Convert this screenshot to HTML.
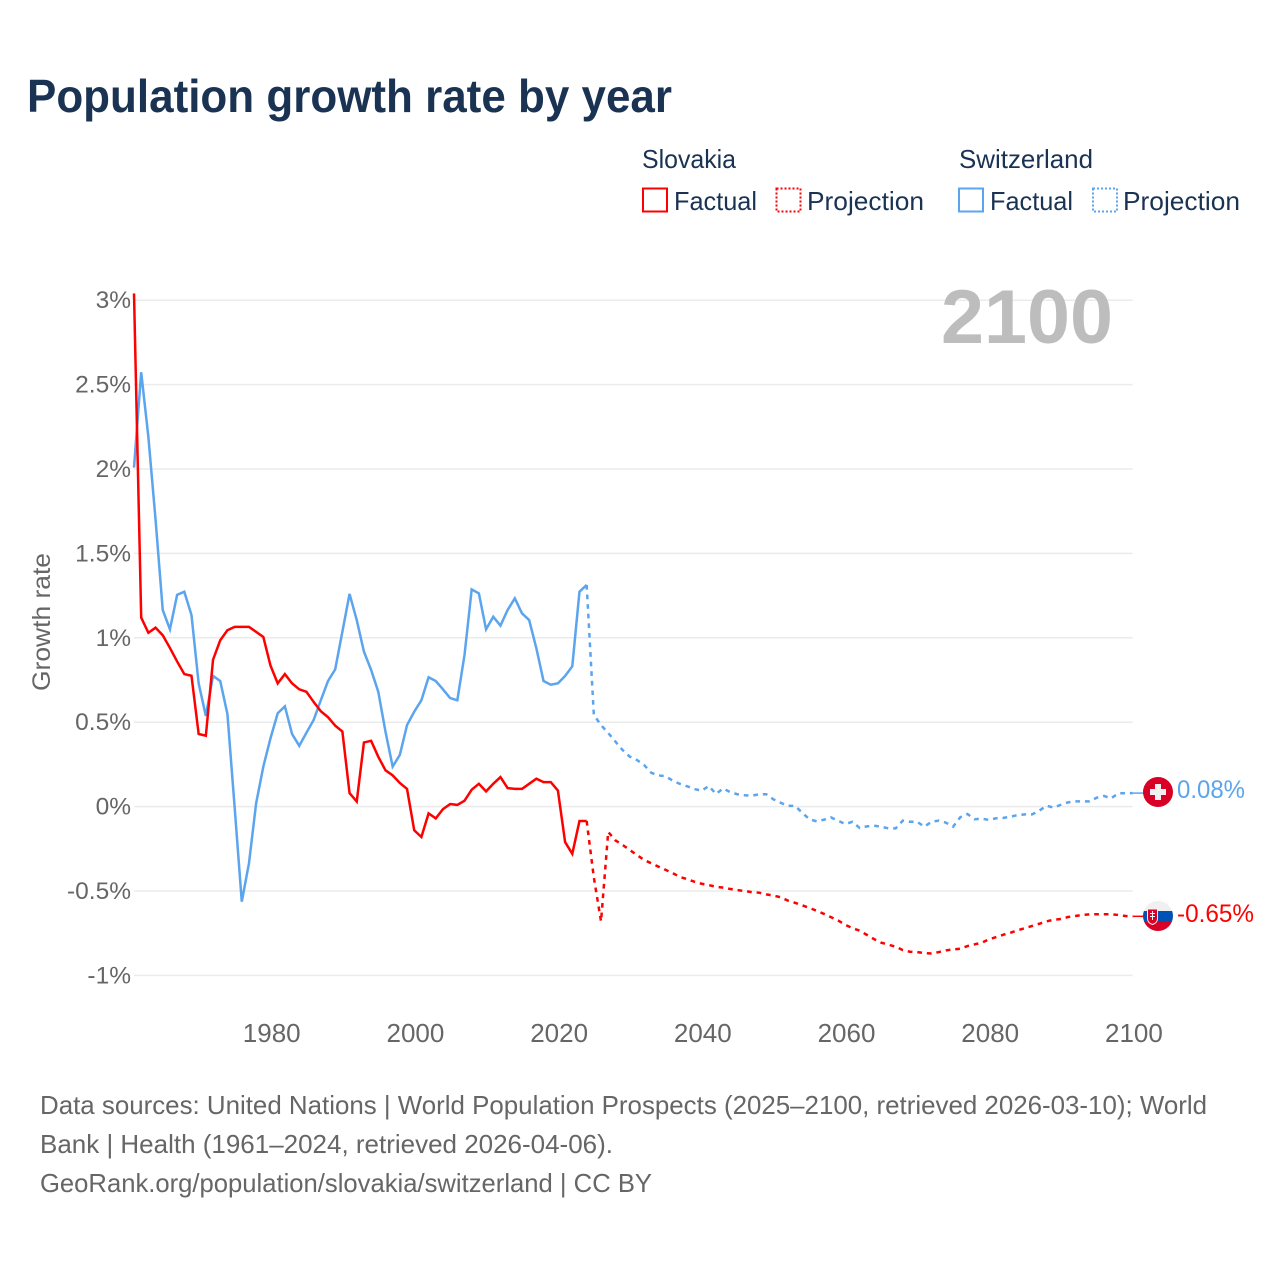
<!DOCTYPE html>
<html lang="en">
<head>
<meta charset="utf-8">
<title>Population growth rate by year</title>
<style>
html,body{margin:0;padding:0;background:#fff;width:1280px;height:1280px;overflow:hidden}
svg{display:block;font-family:"Liberation Sans",Arial,sans-serif}
</style>
</head>
<body>
<svg id="chart" xmlns="http://www.w3.org/2000/svg" width="1280" height="1280" viewBox="0 0 1280 1280">
  <rect width="1280" height="1280" fill="#ffffff"/>
  <text x="27" y="112" font-size="46" font-weight="700" fill="#1a3353" textLength="645" lengthAdjust="spacingAndGlyphs">Population growth rate by year</text>

  <g font-size="26" fill="#1a3353">
    <text x="642" y="168" textLength="94" lengthAdjust="spacingAndGlyphs">Slovakia</text>
    <rect x="643" y="188.500" width="24" height="23" fill="none" stroke="#ff0000" stroke-width="2"/>
    <text x="674" y="210" textLength="83" lengthAdjust="spacingAndGlyphs">Factual</text>
    <rect x="776.500" y="188.500" width="24" height="23" fill="none" stroke="#ff0000" stroke-width="2" stroke-dasharray="2 2"/>
    <text x="807" y="210" textLength="117" lengthAdjust="spacingAndGlyphs">Projection</text>
    <text x="959" y="168" textLength="134" lengthAdjust="spacingAndGlyphs">Switzerland</text>
    <rect x="959" y="188.500" width="24" height="23" fill="none" stroke="#5ba4ee" stroke-width="2"/>
    <text x="990" y="210" textLength="83" lengthAdjust="spacingAndGlyphs">Factual</text>
    <rect x="1093" y="188.500" width="24" height="23" fill="none" stroke="#5ba4ee" stroke-width="2" stroke-dasharray="2 2"/>
    <text x="1123" y="210" textLength="117" lengthAdjust="spacingAndGlyphs">Projection</text>
  </g>

  <g id="grid"></g>
  <text x="941" y="343" font-size="76" font-weight="700" fill="#bdbdbd" textLength="172" lengthAdjust="spacingAndGlyphs">2100</text>
  <g id="yticks" font-size="24.500" fill="#666666" text-anchor="end"></g>
  <g id="xticks" font-size="26" fill="#666666" text-anchor="middle"></g>
  <text transform="translate(50 622) rotate(-90)" font-size="25" fill="#666666" text-anchor="middle" textLength="138" lengthAdjust="spacingAndGlyphs">Growth rate</text>

  <g id="series"></g>

  <g>
    <circle cx="1158" cy="792" r="15" fill="#d80027"/>
    <path d="M1155 784h6v5h5v6h-5v5h-6v-5h-5v-6h5z" fill="#f0f0f0"/>
  </g>
  <text x="1177" y="798" font-size="25" fill="#5ba4ee" textLength="68" lengthAdjust="spacingAndGlyphs">0.08%</text>

  <g>
    <clipPath id="skclip"><circle cx="1158" cy="916" r="15"/></clipPath>
    <g clip-path="url(#skclip)">
      <rect x="1143" y="901" width="30" height="10" fill="#f0f0f0"/>
      <rect x="1143" y="911" width="30" height="10" fill="#0052b4"/>
      <rect x="1143" y="921" width="30" height="10" fill="#d80027"/>
    </g>
    <path d="M1147.500 909h10v9.500q0 4.500-5 6q-5-1.500-5-6z" fill="#d80027" stroke="#f0f0f0" stroke-width="1"/>
    <path d="M1152 911h1v2h2v1h-2v2h2v1h-2v3h-1v-3h-2v-1h2v-2h-2v-1h2z" fill="#f0f0f0"/>
  </g>
  <text x="1177" y="922" font-size="25" fill="#ff0000" textLength="77" lengthAdjust="spacingAndGlyphs">-0.65%</text>

  <g font-size="26" fill="#666666">
    <text x="40" y="1114" textLength="1167" lengthAdjust="spacingAndGlyphs">Data sources: United Nations | World Population Prospects (2025–2100, retrieved 2026-03-10); World</text>
    <text x="40" y="1153" textLength="573" lengthAdjust="spacingAndGlyphs">Bank | Health (1961–2024, retrieved 2026-04-06).</text>
    <text x="40" y="1192" textLength="612" lengthAdjust="spacingAndGlyphs">GeoRank.org/population/slovakia/switzerland | CC BY</text>
  </g>
</svg>
<script>
const NS = 'http://www.w3.org/2000/svg';

const yTickValues = [3, 2.5, 2, 1.5, 1, 0.5, 0, -0.5, -1];
const yTickLabels = ['3%', '2.5%', '2%', '1.5%', '1%', '0.5%', '0%', '-0.5%', '-1%'];
const xTickValues = [1980, 2000, 2020, 2040, 2060, 2080, 2100];
const xTickLabels = ['1980', '2000', '2020', '2040', '2060', '2080', '2100'];

const factualStartYear = 1961;
const projectionStartYear = 2024;

const slovakiaFactual = [
  3.04, 1.12, 1.03, 1.06, 1.015, 0.94, 0.86, 0.785, 0.775, 0.43,
  0.42, 0.87, 0.985, 1.045, 1.065, 1.065, 1.065, 1.035, 1.005, 0.835,
  0.73, 0.785, 0.73, 0.695, 0.68, 0.62, 0.565, 0.53, 0.48, 0.445,
  0.08, 0.03, 0.38, 0.39, 0.295, 0.215, 0.185, 0.14, 0.105, -0.14,
  -0.18, -0.04, -0.07, -0.015, 0.015, 0.01, 0.035, 0.10, 0.135, 0.09,
  0.135, 0.175, 0.11, 0.105, 0.105, 0.135, 0.165, 0.145, 0.145, 0.095,
  -0.21, -0.28, -0.085, -0.085
];

const slovakiaProjection = [
  -0.085, -0.42, -0.68, -0.15, -0.2, -0.227, -0.257, -0.287, -0.316, -0.336,
  -0.356, -0.375, -0.395, -0.417, -0.43, -0.445, -0.457, -0.465, -0.475, -0.48,
  -0.488, -0.495, -0.5, -0.507, -0.51, -0.52, -0.527, -0.537, -0.557, -0.57,
  -0.585, -0.6, -0.617, -0.635, -0.655, -0.675, -0.70, -0.72, -0.735, -0.76,
  -0.785, -0.806, -0.818, -0.83, -0.85, -0.86, -0.862, -0.868, -0.87,
  -0.862, -0.852, -0.846, -0.842, -0.826, -0.816, -0.806, -0.786, -0.773, -0.759,
  -0.747, -0.733, -0.72, -0.707, -0.694, -0.68, -0.67, -0.666, -0.654, -0.648,
  -0.642, -0.638, -0.638, -0.638, -0.638, -0.642, -0.648, -0.65
];

const switzerlandFactual = [
  2.008, 2.573, 2.19, 1.70, 1.165, 1.05, 1.254, 1.273, 1.135, 0.73,
  0.537, 0.774, 0.744, 0.549, 0.0, -0.563, -0.336, 0.02, 0.237, 0.405,
  0.553, 0.594, 0.43, 0.36, 0.438, 0.513, 0.63, 0.744, 0.813, 1.036,
  1.26, 1.105, 0.918, 0.81, 0.68, 0.444, 0.237, 0.306, 0.483, 0.562,
  0.63, 0.766, 0.744, 0.695, 0.643, 0.63, 0.898, 1.287, 1.263, 1.05,
  1.125, 1.072, 1.165, 1.234, 1.145, 1.105, 0.938, 0.744, 0.722, 0.73,
  0.774, 0.831, 1.273, 1.313
];

const switzerlandProjection = [
  1.313, 0.543, 0.483, 0.436, 0.385, 0.335, 0.296, 0.276, 0.246, 0.2,
  0.185, 0.18, 0.153, 0.134, 0.12, 0.104, 0.094, 0.122, 0.075, 0.108,
  0.085, 0.073, 0.067, 0.065, 0.073, 0.073, 0.043, 0.023, 0.004, 0.004,
  -0.036, -0.075, -0.087, -0.078, -0.064, -0.084, -0.103, -0.09, -0.127, -0.117,
  -0.113, -0.119, -0.129, -0.129, -0.083, -0.09, -0.09, -0.119, -0.09,
  -0.083, -0.095, -0.119, -0.063, -0.044, -0.075, -0.071, -0.079, -0.069, -0.067,
  -0.06, -0.05, -0.046, -0.046, -0.024, 0.005, -0.006, 0.011, 0.025, 0.031,
  0.031, 0.031, 0.053, 0.063, 0.049, 0.079, 0.079, 0.08
];

const RED = '#ff0000';
const BLUE = '#5ba4ee';
const xScale = function (year) { return 134 + (year - 1961) * 7.185; };
const yScale = function (value) { return 806.6 - value * 168.8; };

const pointsFor = function (startYear, values) {
  return values.map(function (v, i) {
    return xScale(startYear + i).toFixed(2) + ',' + yScale(v).toFixed(2);
  }).join(' ');
};

const gridLayer = document.getElementById('grid');
const yLayer = document.getElementById('yticks');
yTickValues.forEach(function (v, i) {
  const line = document.createElementNS(NS, 'line');
  
  
  line.setAttribute('x1', xScale(1961));
  line.setAttribute('x2', xScale(2100));
  line.setAttribute('y1', yScale(v));
  line.setAttribute('y2', yScale(v));
  line.setAttribute('stroke', '#ebebeb');
  line.setAttribute('stroke-width', '1.5');
  gridLayer.appendChild(line);

  const label = document.createElementNS(NS, 'text');
  
  
  label.setAttribute('x', 131);
  label.setAttribute('y', yScale(v) + 8);
  label.textContent = yTickLabels[i];
  yLayer.appendChild(label);
});

const xLayer = document.getElementById('xticks');
xTickValues.forEach(function (year, i) {
  const label = document.createElementNS(NS, 'text');
  
  
  label.setAttribute('x', xScale(year) + 1.2);
  label.setAttribute('y', 1042);
  label.textContent = xTickLabels[i];
  xLayer.appendChild(label);
});

const seriesLayer = document.getElementById('series');

const factualBlue = document.createElementNS(NS, 'polyline');


factualBlue.setAttribute('points', pointsFor(factualStartYear, switzerlandFactual));
factualBlue.setAttribute('fill', 'none');
factualBlue.setAttribute('stroke', BLUE);
factualBlue.setAttribute('stroke-width', '2.5');
seriesLayer.appendChild(factualBlue);

const factualRed = document.createElementNS(NS, 'polyline');


factualRed.setAttribute('points', pointsFor(factualStartYear, slovakiaFactual));
factualRed.setAttribute('fill', 'none');
factualRed.setAttribute('stroke', RED);
factualRed.setAttribute('stroke-width', '2.5');
seriesLayer.appendChild(factualRed);

const projBlue = document.createElementNS(NS, 'polyline');


projBlue.setAttribute('points', pointsFor(projectionStartYear, switzerlandProjection));
projBlue.setAttribute('fill', 'none');
projBlue.setAttribute('stroke', BLUE);
projBlue.setAttribute('stroke-width', '2.5');
projBlue.setAttribute('stroke-dasharray', '4.700 4.900');
seriesLayer.appendChild(projBlue);

const projRed = document.createElementNS(NS, 'polyline');


projRed.setAttribute('points', pointsFor(projectionStartYear, slovakiaProjection));
projRed.setAttribute('fill', 'none');
projRed.setAttribute('stroke', RED);
projRed.setAttribute('stroke-width', '2.5');
projRed.setAttribute('stroke-dasharray', '4.700 4.900');
seriesLayer.appendChild(projRed);

const leaderBlue = document.createElementNS(NS, 'line');


leaderBlue.setAttribute('x1', xScale(2100));
leaderBlue.setAttribute('x2', 1144);
leaderBlue.setAttribute('y1', yScale(switzerlandProjection[switzerlandProjection.length - 1]));
leaderBlue.setAttribute('y2', yScale(switzerlandProjection[switzerlandProjection.length - 1]));
leaderBlue.setAttribute('stroke', BLUE);
leaderBlue.setAttribute('stroke-width', '1.500');
seriesLayer.appendChild(leaderBlue);

const leaderRed = document.createElementNS(NS, 'line');


leaderRed.setAttribute('x1', xScale(2100));
leaderRed.setAttribute('x2', 1144);
leaderRed.setAttribute('y1', yScale(slovakiaProjection[slovakiaProjection.length - 1]));
leaderRed.setAttribute('y2', yScale(slovakiaProjection[slovakiaProjection.length - 1]));
leaderRed.setAttribute('stroke', RED);
leaderRed.setAttribute('stroke-width', '1.500');
seriesLayer.appendChild(leaderRed);
</script>
</body>
</html>
